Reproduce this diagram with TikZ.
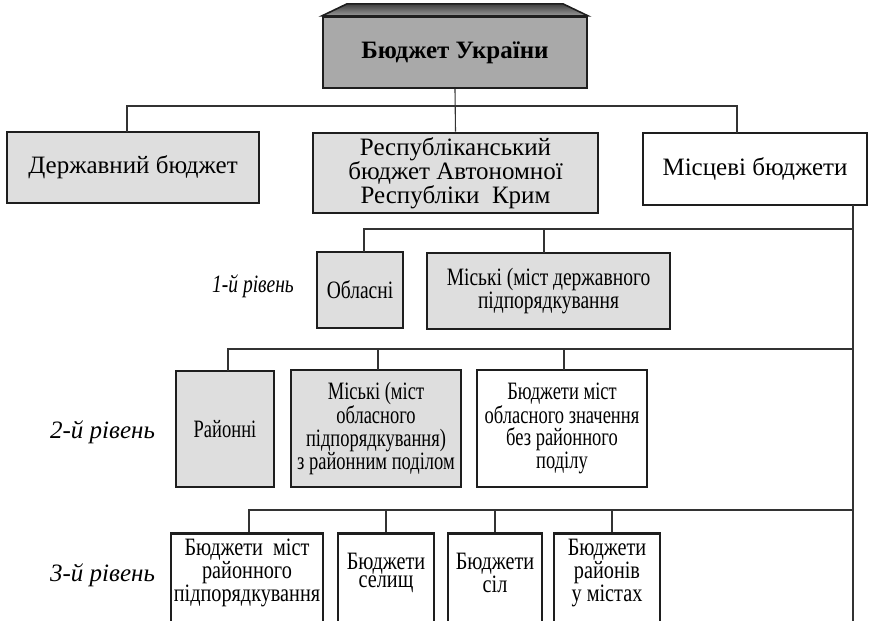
\documentclass[tikz,border=0pt]{standalone}
\usepackage{fontspec}
\usetikzlibrary{calc}
\setmainfont{Liberation Serif}
% narrower cuts of the same serif for the lower levels
\newfontfamily\narrowA[FakeStretch=0.78]{Liberation Serif}
\newfontfamily\narrowB[FakeStretch=0.74]{Liberation Serif}
\newfontfamily\narrowC[FakeStretch=0.81]{Liberation Serif}
\definecolor{boxgray}{HTML}{DEDEDE}
\definecolor{topgray}{HTML}{A9A9A9}
\definecolor{edge}{HTML}{1E1E1E}
\definecolor{wire}{HTML}{333333}
\tikzset{
  conn/.style={draw=wire, line width=1.1pt},
  box/.style={draw=edge, line width=2.6pt, fill=boxgray, align=center,
              inner sep=2pt, font=\fontsize{25}{20}\selectfont},
  wbox/.style={box, fill=white},
  lvlA/.style={box, font=\narrowA\fontsize{25}{21}\selectfont},
  lvlB/.style={box, font=\narrowB\fontsize{25}{22.3}\selectfont},
  lvlC/.style={box, anchor=north, minimum height=110},
  txtC/.style={align=center, inner sep=0pt, font=\narrowC\fontsize{25}{17.5}\selectfont},
  level/.style={anchor=base, inner sep=0pt, font=\itshape\fontsize{25}{25}\selectfont},
}
\begin{document}
\begin{tikzpicture}[x=1pt, y=-1pt]
\useasboundingbox (0,0) rectangle (873,621);
\clip (0,0) rectangle (873,621);

% ---- top: budget of Ukraine (bevelled block) ----
\node[draw=edge, line width=2.2pt, fill=topgray, minimum width=264, minimum height=71,
      inner sep=0pt, font=\bfseries\fontsize{25}{25}\selectfont] (top) at (455,52.5) {Бюджет України};
\draw[edge, line width=1.6pt, top color=black!75, bottom color=black!40]
  (top.north west) -- ++(25,-12) -- ($(top.north east)+(-25,-12)$) -- (top.north east) -- cycle;

% ---- first row ----
\node[box, minimum width=252, minimum height=71] (derzh) at (133,167.5) {Державний бюджет};
\node[box, minimum width=285, minimum height=80] (resp) at (455.5,173)
  {Республіканський\\бюджет Автономної\\Республіки~~Крим};
\node[wbox, minimum width=224, minimum height=72] (mists) at (755,169) {Місцеві бюджети};

\coordinate (bus0) at (0,106);
\coordinate (d0) at (127,132);
\coordinate (m0) at (737,133);
\draw[conn] (top.south) -- (resp.north);
\draw[conn] (d0) -- (d0 |- bus0) -- (m0 |- bus0) -- (m0);

% trunk from local budgets down through all levels
\coordinate (t0) at (853,205);
\coordinate (tend) at (853,640);
\draw[conn] (t0) -- (tend);

% ---- level 1 ----
\node[level, font=\itshape\narrowA\fontsize{25}{25}\selectfont] (l1) at (253,292) {1-й рівень};
\node[lvlA, minimum width=86, minimum height=76] (obl) at (360,290) {Обласні};
\node[lvlA, minimum width=243, minimum height=76] (mis1) at (548.5,291)
  {Міські (міст державного\\підпорядкування};
\coordinate (bus1) at (0,229);
\coordinate (o1) at (364,252);
\coordinate (k1) at (544,253);
\draw[conn] (o1) -- (o1 |- bus1) -- (t0 |- bus1);
\draw[conn] (k1 |- bus1) -- (k1);

% ---- level 2 ----
\node[level] (l2) at (102.5,438) {2-й рівень};
\node[lvlB, minimum width=98, minimum height=116] (rai) at (225,429) {Районні};
\node[lvlB, minimum width=170, minimum height=117] (mis2) at (376,428.5)
  {Міські (міст\\обласного\\підпорядкування)\\з районним поділом};
\node[lvlB, fill=white, minimum width=170, minimum height=117] (bmo) at (562,428.5)
  {Бюджети міст\\обласного значення\\без районного\\поділу};
\coordinate (bus2) at (0,349);
\coordinate (r2) at (228,371);
\coordinate (k2) at (378,370);
\coordinate (b2) at (564,370);
\draw[conn] (r2) -- (r2 |- bus2) -- (t0 |- bus2);
\draw[conn] (k2 |- bus2) -- (k2);
\draw[conn] (b2 |- bus2) -- (b2);

% ---- level 3 (boxes run past the lower edge) ----
\node[level] (l3) at (102.5,581) {3-й рівень};
\node[lvlC, fill=white, minimum width=152] (c1) at (247,532) {};
\node[lvlC, fill=white, minimum width=96] (c2) at (386,532) {};
\node[lvlC, fill=white, minimum width=94] (c3) at (495,532) {};
\node[lvlC, fill=white, minimum width=106] (c4) at (607,532) {};
\node[txtC] (c1t) at (247,573) {Бюджети~~міст\\районного\\підпорядкування};
\node[txtC] (c2t) at (386,573) {Бюджети\\селищ};
\node[txtC] (c3t) at (495,573) {Бюджети\\сіл};
\node[txtC] (c4t) at (607,573) {Бюджети\\районів\\у містах};
\coordinate (bus3) at (0,510);
\coordinate (p1) at (249,532);
\coordinate (p4) at (612,532);
\draw[conn] (p1) -- (p1 |- bus3) -- (t0 |- bus3);
\draw[conn] (c2.north |- bus3) -- (c2.north);
\draw[conn] (c3.north |- bus3) -- (c3.north);
\draw[conn] (p4 |- bus3) -- (p4);
\end{tikzpicture}
\end{document}
